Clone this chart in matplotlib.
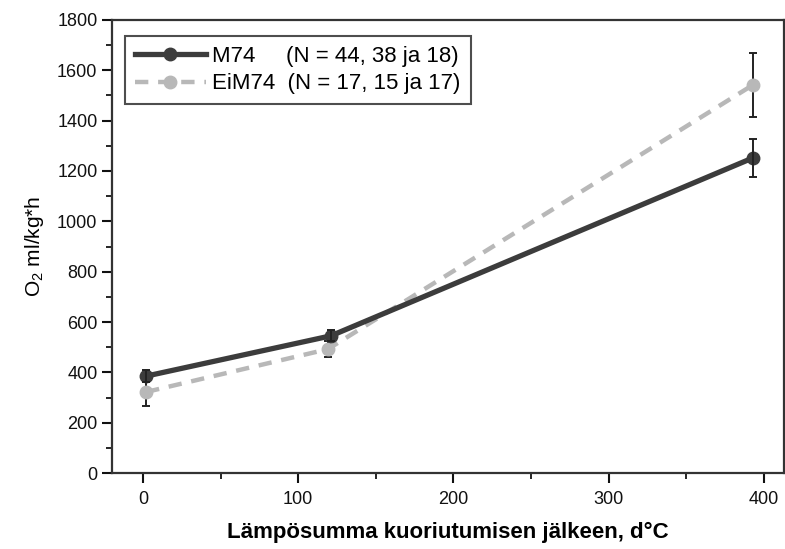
import matplotlib
matplotlib.use('Agg')
import matplotlib.pyplot as plt
from matplotlib.ticker import MultipleLocator

plt.rcParams['font.family'] = ['Liberation Sans', 'DejaVu Sans']
plt.rcParams['mathtext.fontset'] = 'custom'
plt.rcParams['mathtext.rm'] = 'Liberation Sans'

# data
xM74 = [2, 121, 393]
yM74 = [385, 545, 1252]
eM74 = [25, 22, 76]

xEiM74 = [2, 119, 393]
yEiM74 = [322, 492, 1542]
eEiM74 = [55, 32, 126]

labM74 = 'M74     (N = 44, 38 ja 18)'
labEiM74 = 'EiM74  (N = 17, 15 ja 17)'

fig = plt.figure(figsize=(7.85, 5.49), dpi=100)
ax = fig.add_axes([0.1427, 0.1384, 0.8560, 0.8252])

# error bars first, lines on top
ax.errorbar(xM74, yM74, yerr=eM74, fmt='none', ecolor='#222222', elinewidth=1.4,
            capsize=3, capthick=1.4, zorder=4)
ax.errorbar(xEiM74, yEiM74, yerr=eEiM74, fmt='none', ecolor='#222222', elinewidth=1.4,
            capsize=3, capthick=1.4, zorder=1)
ax.plot(xM74, yM74, color='#3c3c3c', lw=3.8, marker='o', markersize=9, label=labM74, zorder=3)
ax.plot(xEiM74, yEiM74, color='#b8b8b8', lw=3.2, ls=(0, (3, 2.2)), marker='o',
        markersize=9, label=labEiM74, zorder=2)

ax.set_xlim(-20, 413)
ax.set_ylim(0, 1800)
ax.xaxis.set_major_locator(MultipleLocator(100))
ax.xaxis.set_minor_locator(MultipleLocator(50))
ax.yaxis.set_major_locator(MultipleLocator(200))
ax.yaxis.set_minor_locator(MultipleLocator(100))
ax.tick_params(which='major', direction='out', length=7, width=1.5, labelsize=13, colors='#111111')
ax.tick_params(which='minor', direction='out', length=4, width=1.2)
ax.tick_params(axis='x', pad=6)
for s in ax.spines.values():
    s.set_linewidth(1.6)
    s.set_color('#333333')

ax.set_xlabel('Lämpösumma kuoriutumisen jälkeen, d°C', fontsize=16, fontweight='bold', labelpad=10)
ax.set_ylabel('O$_2$ ml/kg*h', fontsize=15, labelpad=8)

leg = ax.legend(loc='upper left', bbox_to_anchor=(0.012, 0.975), fontsize=16, frameon=True,
                fancybox=False, edgecolor='#222222', handlelength=3.2, borderpad=0.45,
                labelspacing=0.3, handletextpad=0.3, borderaxespad=0.2)
leg.get_frame().set_linewidth(1.5)

fig.savefig('out.png', dpi=100)
